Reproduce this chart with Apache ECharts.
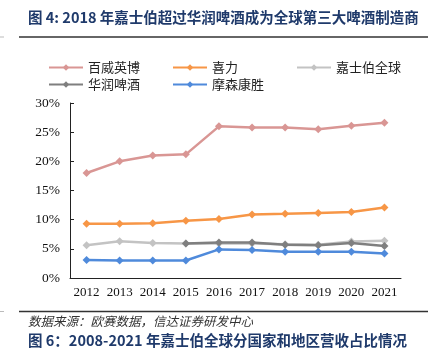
<!DOCTYPE html>
<html>
<head>
<meta charset="utf-8">
<script src="https://cdn.jsdelivr.net/npm/echarts@6/dist/echarts.min.js"></script>
<style>
  html, body {margin: 0; padding: 0; background: #fff;}
  #chart {width: 432px; height: 350px;}
</style>
</head>
<body>
<div id="chart"></div>
<script>
const years = ['2012', '2013', '2014', '2015', '2016', '2017', '2018', '2019', '2020', '2021'];
const abInbev = [18.0, 20.0, 21.0, 21.2, 26.0, 25.8, 25.8, 25.5, 26.1, 26.6];
const heineken = [9.3, 9.3, 9.4, 9.8, 10.1, 10.9, 11.0, 11.15, 11.3, 12.1];
const carlsberg = [5.6, 6.3, 6.0, 5.9, 5.9, 5.9, 5.8, 5.7, 6.25, 6.4];
const crBeer = [null, null, null, 5.9, 6.1, 6.1, 5.7, 5.6, 6.0, 5.5];
const molson = [3.1, 3.0, 3.0, 3.0, 4.9, 4.8, 4.5, 4.5, 4.5, 4.2];
const yTicks = [0, 5, 10, 15, 20, 25, 30];

const navy = '#1F3A6B';
const cjk = '"Noto Sans CJK SC", sans-serif';
const serif = '"Liberation Serif", "DejaVu Serif", serif';

const myChart = echarts.init(document.getElementById('chart'));

function line(name, data, color, z) {
  return {
    name, type: 'line', data, z,
    symbol: 'diamond', symbolSize: 8,
    lineStyle: {width: 2.5, color},
    itemStyle: {color},
    connectNulls: false
  };
}

function legend(left, names) {
  return {
    orient: 'vertical', left, top: 56, itemGap: 4,
    itemWidth: 34, itemHeight: 8,
    data: names,
    textStyle: {fontFamily: cjk, fontSize: 13, color: '#222', padding: [0, 0, 0, 0]}
  };
}

myChart.setOption({
  animation: false,
  legend: [
    legend(43, ['百威英博', '华润啤酒']),
    legend(167, ['喜力', '摩森康胜']),
    legend(291, ['嘉士伯全球'])
  ],
  grid: {left: 70, right: 31, top: 103, bottom: 72},
  xAxis: {
    type: 'category', data: years, boundaryGap: true,
    axisLine: {lineStyle: {color: '#222', width: 1}},
    axisTick: {inside: true, length: 4, lineStyle: {color: '#222'}},
    axisLabel: {fontFamily: serif, fontSize: 13, color: '#111', margin: 8, interval: 0}
  },
  yAxis: {
    type: 'value', min: 0, max: 30, interval: 5,
    splitLine: {show: false},
    axisLine: {show: true, lineStyle: {color: '#222', width: 1}},
    axisTick: {show: true, inside: true, length: 4, lineStyle: {color: '#222'}},
    axisLabel: {
      fontFamily: serif, fontSize: 13.5, color: '#111', margin: 10,
      formatter: v => yTicks.includes(v) ? v + '%' : ''
    }
  },
  series: [
    line('百威英博', abInbev, '#D99694', 3),
    line('喜力', heineken, '#F79646', 3),
    line('嘉士伯全球', carlsberg, '#C3C3C3', 2),
    line('华润啤酒', crBeer, '#7F7F7F', 4),
    line('摩森康胜', molson, '#4F8ADB', 5)
  ],
  graphic: [
    {type: 'text', left: 28, top: 10, style: {text: '图 4: 2018 年嘉士伯超过华润啤酒成为全球第三大啤酒制造商', fontFamily: cjk, fontSize: 14.5, fontWeight: 'bold', fill: navy}},
    {type: 'line', shape: {x1: 19, y1: 37, x2: 428, y2: 37}, style: {stroke: '#333', lineWidth: 1.5}},
    {type: 'line', shape: {x1: 0, y1: 37, x2: 4, y2: 37}, style: {stroke: '#bbb', lineWidth: 1}},
    {type: 'line', shape: {x1: 19, y1: 311.5, x2: 428, y2: 311.5}, style: {stroke: '#333', lineWidth: 1.5}},
    {type: 'line', shape: {x1: 0, y1: 311.5, x2: 4, y2: 311.5}, style: {stroke: '#bbb', lineWidth: 1}},
    {type: 'text', left: 28, top: 315, style: {text: '数据来源：欧赛数据，信达证券研发中心', fontFamily: cjk, fontSize: 12.5, fontStyle: 'italic', fill: '#333'}},
    {type: 'text', left: 28, top: 333, style: {text: '图 6：2008-2021 年嘉士伯全球分国家和地区营收占比情况', fontFamily: cjk, fontSize: 14.5, fontWeight: 'bold', fill: navy}}
  ]
});
</script>
</body>
</html>
